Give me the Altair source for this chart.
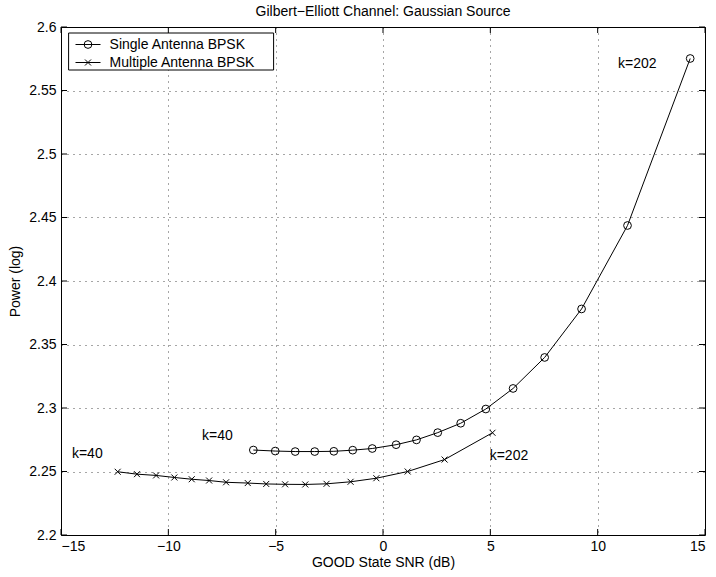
import altair as alt
import pandas as pd

# ---- data ----
single_x = [-6.04, -5.02, -4.09, -3.18, -2.29, -1.41, -0.50, 0.61, 1.56, 2.55,
            3.62, 4.79, 6.06, 7.53, 9.25, 11.39, 14.31]
single_y = [2.2669, 2.2661, 2.2657, 2.2657, 2.2659, 2.2668, 2.2681, 2.2711, 2.2749, 2.2806,
            2.2880, 2.2992, 2.3154, 2.3398, 2.3780, 2.4437, 2.5752]
multi_x = [-12.36, -11.46, -10.57, -9.72, -8.91, -8.10, -7.31, -6.30, -5.44, -4.56,
           -3.62, -2.63, -1.51, -0.31, 1.15, 2.87, 5.10]
multi_y = [2.2498, 2.2479, 2.2469, 2.2453, 2.2439, 2.2429, 2.2415, 2.2409, 2.2402, 2.2399,
           2.2398, 2.2403, 2.2419, 2.2447, 2.2500, 2.2594, 2.2805]

series_names = ["Single Antenna BPSK", "Multiple Antenna BPSK"]

ann_labels = ["k=40", "k=40", "k=202", "k=202"]
ann_x = [-8.43, -14.49, 10.95, 4.97]
ann_y = [2.2778, 2.2634, 2.5705, 2.2620]

x_ticks = [-15, -10, -5, 0, 5, 10, 15]
y_ticks = [2.2, 2.25, 2.3, 2.35, 2.4, 2.45, 2.5, 2.55, 2.6]

title_text = "Gilbert\u2212Elliott Channel: Gaussian Source"
x_title = "GOOD State SNR (dB)"
y_title = "Power (log)"

FONT = "Liberation Sans"
W, H = 644, 508
XMARK = "M-1,-1L1,1M-1,1L1,-1"

single = pd.DataFrame({"x": single_x, "y": single_y, "i": range(len(single_x))})
multi = pd.DataFrame({"x": multi_x, "y": multi_y, "i": range(len(multi_x))})
ann = pd.DataFrame({"x": ann_x, "y": ann_y, "label": ann_labels})
xt = pd.DataFrame({"x": x_ticks})
yt = pd.DataFrame({"y": y_ticks})
one = pd.DataFrame({"a": [0]})

xs = alt.Scale(domain=[-15, 15], nice=False, zero=False)
ys = alt.Scale(domain=[2.2, 2.6], nice=False, zero=False)

X = alt.X("x:Q", scale=xs, axis=alt.Axis(values=x_ticks, format="d", title=x_title,
                                          grid=True, ticks=False, domain=False,
                                          labelPadding=4, titlePadding=2))
Y = alt.Y("y:Q", scale=ys, axis=alt.Axis(values=y_ticks, format=".3~g", title=y_title,
                                          grid=True, ticks=False, domain=False,
                                          labelPadding=5, titlePadding=6))

line_s = alt.Chart(single).mark_line(color="black", strokeWidth=1).encode(x=X, y=Y, order="i:Q")
pts_s = alt.Chart(single).mark_point(shape="circle", filled=False, color="black",
                                     size=60, strokeWidth=1, opacity=1).encode(x="x:Q", y="y:Q")
line_m = alt.Chart(multi).mark_line(color="black", strokeWidth=1).encode(x="x:Q", y="y:Q", order="i:Q")
pts_m = alt.Chart(multi).mark_point(shape=XMARK, filled=False, color="black",
                                    size=36, strokeWidth=1, opacity=1).encode(x="x:Q", y="y:Q")

text_ann = alt.Chart(ann).mark_text(align="left", baseline="middle", font=FONT,
                                    fontSize=14, color="black").encode(
    x="x:Q", y="y:Q", text="label:N")

# inward ticks (MATLAB style)
TL = 6
tick_b = alt.Chart(xt).mark_rule(color="black").encode(x="x:Q", y=alt.value(H), y2=alt.value(H - TL))
tick_t = alt.Chart(xt).mark_rule(color="black").encode(x="x:Q", y=alt.value(0), y2=alt.value(TL))
tick_l = alt.Chart(yt).mark_rule(color="black").encode(y="y:Q", x=alt.value(0), x2=alt.value(TL))
tick_r = alt.Chart(yt).mark_rule(color="black").encode(y="y:Q", x=alt.value(W), x2=alt.value(W - TL))

# legend box
lx0, lx1, ly0, ly1 = 7.6, 212.6, 6, 43
row1, row2 = 17.5, 35.5
leg_box = alt.Chart(one).mark_rect(fill="white", stroke="black", strokeWidth=1).encode(
    x=alt.value(lx0), x2=alt.value(lx1), y=alt.value(ly0), y2=alt.value(ly1))
leg_l1 = alt.Chart(one).mark_rule(color="black").encode(
    x=alt.value(14.5), x2=alt.value(39.5), y=alt.value(row1))
leg_l2 = alt.Chart(one).mark_rule(color="black").encode(
    x=alt.value(14.5), x2=alt.value(39.5), y=alt.value(row2))
leg_p1 = alt.Chart(one).mark_point(shape="circle", filled=False, color="black", size=60,
                                   strokeWidth=1, opacity=1).encode(x=alt.value(27), y=alt.value(row1))
leg_p2 = alt.Chart(one).mark_point(shape=XMARK, filled=False, color="black", size=36,
                                   strokeWidth=1, opacity=1).encode(x=alt.value(27), y=alt.value(row2))
leg_t1 = alt.Chart(one).mark_text(align="left", baseline="middle", font=FONT, fontSize=14,
                                  color="black").encode(x=alt.value(48.6), y=alt.value(row1),
                                                        text=alt.value(series_names[0]))
leg_t2 = alt.Chart(one).mark_text(align="left", baseline="middle", font=FONT, fontSize=14,
                                  color="black").encode(x=alt.value(48.6), y=alt.value(row2),
                                                        text=alt.value(series_names[1]))

chart = alt.layer(
    line_s, pts_s, line_m, pts_m, text_ann,
    tick_b, tick_t, tick_l, tick_r,
    leg_box, leg_l1, leg_l2, leg_p1, leg_p2, leg_t1, leg_t2,
).properties(
    width=W, height=H,
    title=alt.TitleParams(title_text, font=FONT, fontSize=14, fontWeight="normal",
                          color="black", anchor="middle", offset=1),
    padding={"left": 61, "top": 27, "right": 11, "bottom": 42},
    autosize=alt.AutoSizeParams(type="none"),
    background="white",
).configure_view(
    stroke="black", strokeWidth=1
).configure_axis(
    labelFont=FONT, labelFontSize=14, labelColor="black",
    titleFont=FONT, titleFontSize=14, titleFontWeight="normal", titleColor="black",
    gridColor="black", gridDash=[1, 5], gridOpacity=0.7, gridWidth=1,
)

chart.save("out.html", embed_options={"renderer": "svg", "actions": False})
